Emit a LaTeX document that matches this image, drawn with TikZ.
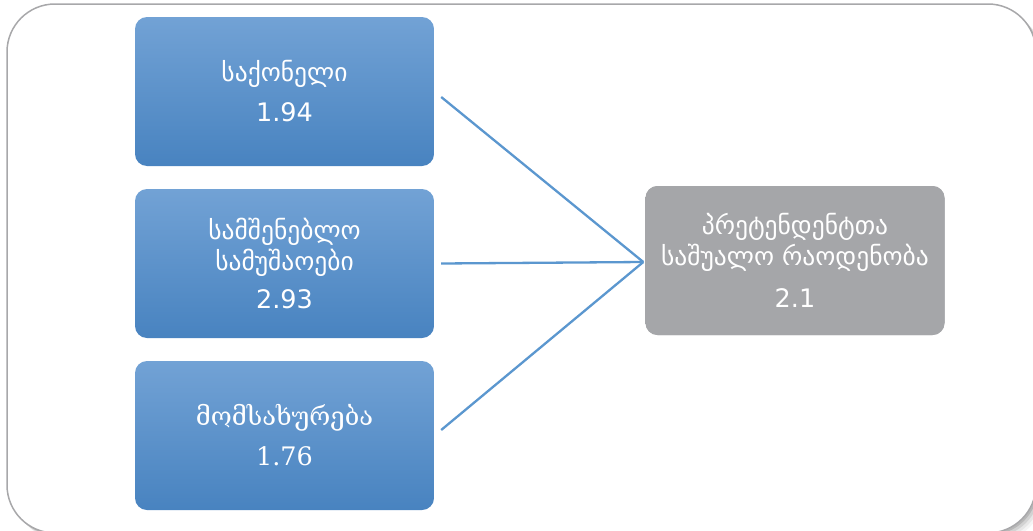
\documentclass[tikz,border=0pt]{standalone}
\usepackage{fontspec}
\setmainfont{DejaVu Sans}
\newfontfamily\geoserif{DejaVu Serif}
\definecolor{boxtop}{RGB}{114,162,213}
\definecolor{boxbot}{RGB}{72,131,192}
\definecolor{linkblue}{RGB}{91,151,207}
\definecolor{resgray}{RGB}{165,166,169}
\definecolor{framegray}{RGB}{168,168,170}

\begin{document}
\begin{tikzpicture}[x=1pt,y=-1pt,
  catbox/.style={rectangle, rounded corners=12pt, minimum width=299pt, minimum height=149pt,
    top color=boxtop, bottom color=boxbot, text=white, align=center, inner sep=0pt,
    font=\fontsize{25.5}{31}\selectfont},
  resbox/.style={catbox, fill=resgray, top color=resgray, bottom color=resgray},
  link/.style={-, line width=2.3pt, linkblue}]
\useasboundingbox (0,0) rectangle (1033,530);
% frame with soft shadow
\begin{scope}
\clip (0,0) rectangle (1033,530);
\foreach \s/\o in {8/0.04,6/0.06,4/0.09,2/0.12}
  \fill[black, opacity=\o, rounded corners=48pt] (7+\s,4+\s) rectangle (1036+\s,533+\s);
\draw[framegray, line width=1.5pt, fill=white, rounded corners=48pt] (7,4) rectangle (1036,533);
\end{scope}
% boxes
\node[catbox] (goods) at (284.5,91.5) {საქონელი\\[9pt]1.94};
\node[catbox] (works) at (284.5,263.5) {სამშენებლო\\სამუშაოები\\[7pt]2.93};
\node[catbox, font=\geoserif\fontsize{25.5}{31}\selectfont] (serv) at (284.5,435.5) {მომსახურება\\[9pt]1.76};
\node[resbox] (avg) at (795,260.5) {პრეტენდენტთა\\საშუალო რაოდენობა\\[11pt]2.1};
% links
\draw [link] ([xshift=7pt,yshift=-5.5pt] goods.east) -- ([xshift=-2pt,yshift=-1.5pt] avg.west);
\draw [link] ([xshift=7pt] works.east) -- ([xshift=-2pt,yshift=-1.5pt] avg.west);
\draw [link] ([xshift=7pt,yshift=5.5pt] serv.east) -- ([xshift=-2pt,yshift=-1.5pt] avg.west);
\end{tikzpicture}
\end{document}
